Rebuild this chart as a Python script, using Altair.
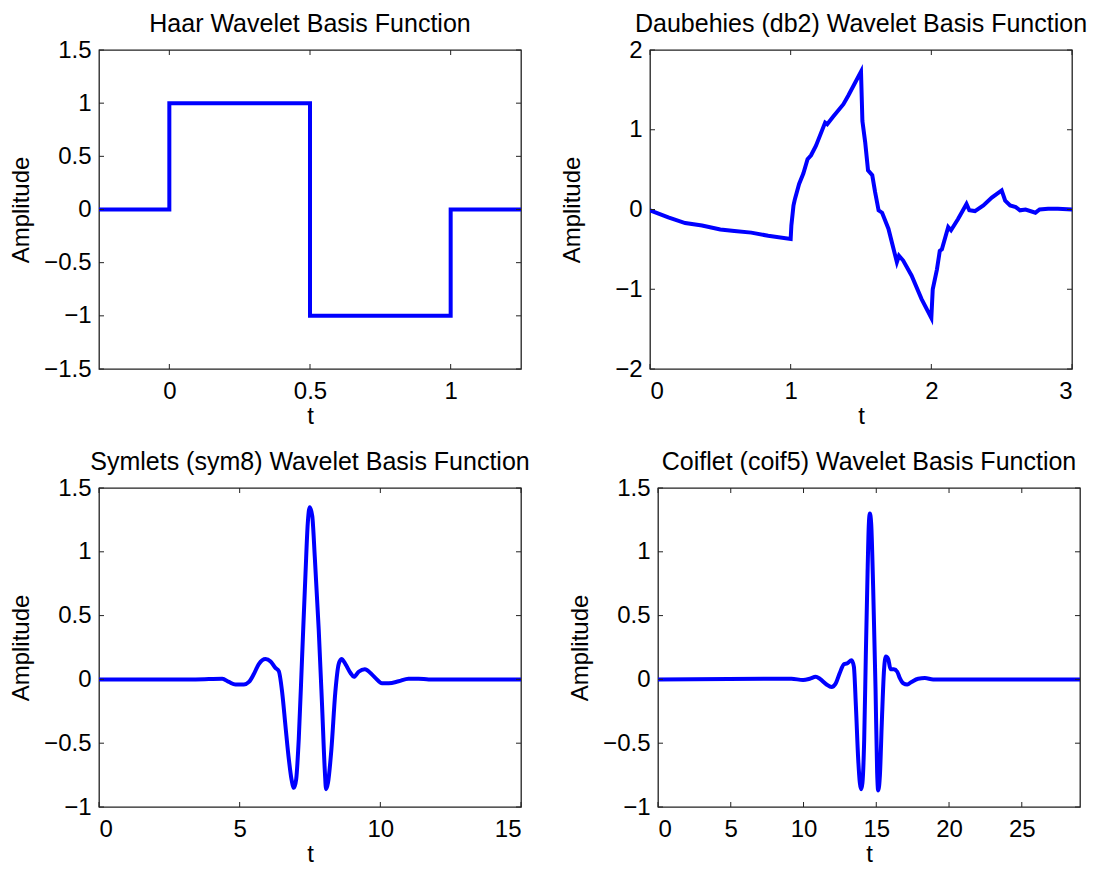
import altair as alt
import pandas as pd

# ---------------- data ----------------
haar_t = [-0.25, 0.0, 0.0, 0.5, 0.5, 1.0, 1.0, 1.25]
haar_y = [0.0, 0.0, 1.0, 1.0, -1.0, -1.0, 0.0, 0.0]

db2_t = [0.0, 0.13, 0.25, 0.37, 0.5, 0.6, 0.72, 0.84, 1.0, 1.005, 1.02, 1.03, 1.06,
         1.09, 1.12, 1.145, 1.18, 1.245, 1.26, 1.3, 1.375, 1.41, 1.5, 1.51, 1.53,
         1.55, 1.58, 1.6, 1.625, 1.65, 1.695, 1.755, 1.77, 1.8, 1.86, 1.93, 2.0,
         2.01, 2.04, 2.06, 2.075, 2.12, 2.14, 2.19, 2.25, 2.27, 2.31, 2.37, 2.43,
         2.5, 2.525, 2.56, 2.6, 2.63, 2.67, 2.74, 2.77, 2.83, 2.9, 3.0]
db2_y = [-0.01, -0.1, -0.17, -0.2, -0.25, -0.27, -0.29, -0.33, -0.37, -0.2, 0.05,
         0.13, 0.32, 0.45, 0.63, 0.68, 0.8, 1.09, 1.07, 1.16, 1.32, 1.43, 1.73, 1.11,
         0.84, 0.49, 0.43, 0.22, -0.01, -0.04, -0.24, -0.66, -0.58, -0.64, -0.83,
         -1.12, -1.36, -1.0, -0.75, -0.52, -0.5, -0.22, -0.26, -0.12, 0.07, -0.01,
         -0.02, 0.05, 0.15, 0.24, 0.11, 0.05, 0.03, -0.01, 0.0, -0.04, 0.0, 0.01,
         0.01, 0.0]

sym8_t = [0.0, 3.43, 4.38, 4.62, 4.85, 5.15, 5.33, 5.5, 5.68, 5.92, 6.1, 6.27, 6.39,
          6.51, 6.63, 6.75, 6.84, 6.93, 7.01, 7.1, 7.22, 7.34, 7.42, 7.49, 7.58,
          7.67, 7.81, 7.93, 8.03, 8.07, 8.14, 8.26, 8.4, 8.52, 8.62, 8.76, 8.94,
          9.06, 9.23, 9.45, 9.65, 9.83, 10.06, 10.3, 10.65, 11.0, 11.36, 11.72, 15.0]
sym8_y = [0.0, 0.0, 0.005, -0.02, -0.04, -0.04, -0.02, 0.04, 0.12, 0.16, 0.14, 0.09,
          0.065, -0.1, -0.37, -0.63, -0.78, -0.85, -0.78, -0.47, 0.18, 0.83, 1.22,
          1.35, 1.28, 0.96, 0.39, -0.21, -0.73, -0.86, -0.81, -0.55, -0.1, 0.12,
          0.16, 0.12, 0.05, 0.02, 0.06, 0.08, 0.05, 0.01, -0.03, -0.03, -0.015,
          0.005, 0.005, 0.0, 0.0]

coif5_t = [0.0, 8.6, 9.17, 9.97, 10.43, 10.84, 11.12, 11.58, 11.92, 12.22, 12.49,
           12.79, 13.0, 13.3, 13.46, 13.6, 13.76, 13.87, 13.96, 14.05, 14.17, 14.28,
           14.4, 14.49, 14.56, 14.65, 14.79, 14.95, 15.06, 15.13, 15.25, 15.38,
           15.52, 15.66, 15.82, 15.98, 16.21, 16.44, 16.62, 16.85, 17.13, 17.42,
           17.88, 18.34, 18.91, 29.0]
coif5_y = [0.0, 0.005, 0.005, -0.005, 0.005, 0.02, 0.005, -0.04, -0.06, -0.03, 0.05,
           0.12, 0.125, 0.15, 0.1, -0.21, -0.63, -0.81, -0.86, -0.81, -0.47, 0.18,
           0.83, 1.22, 1.3, 1.22, 0.7, -0.08, -0.73, -0.87, -0.75, -0.34, 0.05, 0.18,
           0.16, 0.08, 0.08, 0.06, 0.01, -0.03, -0.04, -0.02, 0.005, 0.01, 0.0, 0.0]

titles = ["Haar Wavelet Basis Function",
          "Daubehies (db2) Wavelet Basis Function",
          "Symlets (sym8) Wavelet Basis Function",
          "Coiflet (coif5) Wavelet Basis Function"]

haar_xticks = [0, 0.5, 1]
db2_xticks = [0, 1, 2, 3]
sym8_xticks = [0, 5, 10, 15]
coif5_xticks = [0, 5, 10, 15, 20, 25]
haar_yticks = [-1.5, -1, -0.5, 0, 0.5, 1, 1.5]
db2_yticks = [-2, -1, 0, 1, 2]
sym_yticks = [-1, -0.5, 0, 0.5, 1, 1.5]

W, H = 422, 319
TICK = 5
BLUE = "#0000ff"
AXC = "#222222"


def panel(t, y, title, xdom, xticks, ydom, yticks, interp):
    df = pd.DataFrame({"t": t, "y": y, "i": list(range(len(t)))})
    xs = alt.Scale(domain=xdom, nice=False, zero=False)
    ys = alt.Scale(domain=ydom, nice=False, zero=False)
    xax = alt.Axis(values=xticks, title="t", format="~f", ticks=False,
                   domain=False, grid=False, labelPadding=10, titlePadding=1)
    yax = alt.Axis(values=yticks, title="Amplitude", format="~f",
                   ticks=False, domain=False, grid=False,
                   labelPadding=8, titlePadding=14,
                   minExtent=52, maxExtent=52)
    line = alt.Chart(df).mark_line(
        color=BLUE, strokeWidth=4, interpolate=interp, clip=True,
        strokeJoin="miter", strokeCap="square"
    ).encode(
        x=alt.X("t:Q", scale=xs, axis=xax, title="t"),
        y=alt.Y("y:Q", scale=ys, axis=yax, title="Amplitude"),
        order="i:Q",
    )
    xt = pd.DataFrame({"v": xticks})
    yt = pd.DataFrame({"v": yticks})
    xtop = alt.Chart(xt).mark_rule(color=AXC, strokeWidth=1).encode(
        x=alt.X("v:Q", scale=xs, axis=xax, title="t"),
        y=alt.value(0), y2=alt.value(TICK))
    xbot = alt.Chart(xt).mark_rule(color=AXC, strokeWidth=1).encode(
        x=alt.X("v:Q", scale=xs, axis=xax, title="t"),
        y=alt.value(H - TICK), y2=alt.value(H))
    yleft = alt.Chart(yt).mark_rule(color=AXC, strokeWidth=1).encode(
        y=alt.Y("v:Q", scale=ys, axis=yax, title="Amplitude"),
        x=alt.value(0), x2=alt.value(TICK))
    yright = alt.Chart(yt).mark_rule(color=AXC, strokeWidth=1).encode(
        y=alt.Y("v:Q", scale=ys, axis=yax, title="Amplitude"),
        x=alt.value(W - TICK), x2=alt.value(W))
    ttl = alt.Chart(pd.DataFrame({"title": [title]})).mark_text(
        fontSize=25, font="Liberation Sans", color="black", align="center",
        baseline="alphabetic"
    ).encode(text="title:N", x=alt.value(W / 2), y=alt.value(-18))
    return alt.layer(line, xtop, xbot, yleft, yright, ttl).properties(
        width=W, height=H)


p1 = panel(haar_t, haar_y, titles[0], [-0.25, 1.25], haar_xticks, [-1.5, 1.5], haar_yticks, "linear")
p2 = panel(db2_t, db2_y, titles[1], [0, 3], db2_xticks, [-2, 2], db2_yticks, "linear")
p3 = panel(sym8_t, sym8_y, titles[2], [0, 15], sym8_xticks, [-1, 1.5], sym_yticks, "monotone")
p4 = panel(coif5_t, coif5_y, titles[3], [0, 29], coif5_xticks, [-1, 1.5], sym_yticks, "monotone")

row1 = alt.hconcat(p1, p2, spacing=36)
row2 = alt.hconcat(p3, p4, spacing=36)
chart = alt.vconcat(row1, row2, spacing=20).properties(
    padding={"top": 3, "left": 0, "right": 0, "bottom": 0}
).configure(
    font="Liberation Sans", background="white"
).configure_view(
    stroke=AXC, strokeWidth=1.3
).configure_axis(
    labelFont="Liberation Sans", titleFont="Liberation Sans",
    labelFontSize=24, titleFontSize=24, labelColor="black", titleColor="black",
    titleFontWeight="normal",
)

chart.save("out.html", embed_options={"renderer": "svg", "actions": False})
